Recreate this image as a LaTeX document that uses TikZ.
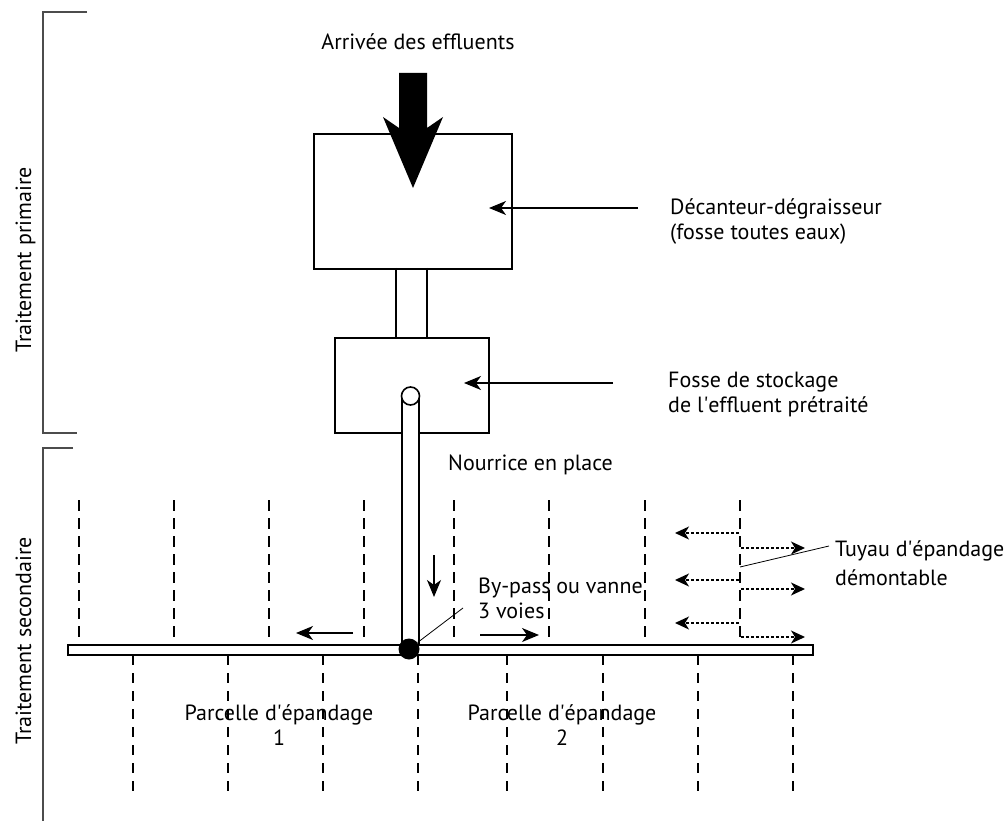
\documentclass[tikz,border=0pt]{standalone}
\usepackage{fontspec}
\setmainfont{PT Sans}
\usetikzlibrary{arrows.meta}
\begin{document}
\begin{tikzpicture}[x=1pt,y=-1pt,
  lbl/.style={font=\fontsize{22}{25}\selectfont, inner sep=0pt, align=left, text=black},
  boxst/.style={draw, line width=1.6pt, fill=white},
  pipeln/.style={line width=1.6pt},
  ptr/.style={line width=1.4pt, -{Stealth[length=17pt,width=14pt,inset=5pt]}},
  dashA/.style={line width=1.9pt, dash pattern=on 11pt off 7pt},
  dashB/.style={line width=1.9pt, dash pattern=on 10pt off 8pt},
  dotarrow/.style={line width=1.4pt, dash pattern=on 3pt off 2pt, -{Stealth[length=14pt,width=13pt,inset=4pt]}},
  leader/.style={line width=0.8pt},
  bracket/.style={line width=1.7pt, draw=black!70}]
\useasboundingbox (0,0) rectangle (1007,821);

% brackets
\draw[bracket] (87,12) -- (43,12) -- (43,433) -- (77,433);
\draw[bracket] (73,448) -- (43,448) -- (43,821);
\node[lbl, rotate=90, anchor=base] (tprim) at (31,260) {Traitement primaire};
\node[lbl, rotate=90, anchor=base] (tsec) at (31,641) {Traitement secondaire};

% dashed field lines
\foreach \x in {79,174,269,364,454,549,645,740}
  \draw[dashA] (\x,500) -- (\x,645);
\foreach \x in {133,228,323,418,507,603,698,793}
  \draw[dashB] (\x,655) -- (\x,798);

% main horizontal pipe
\draw[boxst] (68,645) rectangle (813,655);

% boxes
\node[boxst, minimum width=198pt, minimum height=135pt, anchor=north west, inner sep=0pt] (dec) at (313,133) {};
\draw[pipeln] (396,268) -- (396,337);
\draw[pipeln] (427,268) -- (427,337);
\node[boxst, minimum width=154pt, minimum height=95pt, anchor=north west, inner sep=0pt] (fos) at (334,337) {};

% nourrice pipe
\fill[white] (402,396) rectangle (419,645);
\draw[pipeln] (402,396) -- (402,645);
\draw[pipeln] (419,396) -- (419,645);
\node[circle, draw, line width=1.6pt, fill=white, minimum size=18pt, inner sep=0pt] (circ) at (410.5,396) {};
\node[circle, fill=black, minimum size=21pt, inner sep=0pt] (vanne) at (409,649) {};

% big incoming arrow
\fill[black] (399,73) -- (427,73) -- (427,128) -- (443,117) -- (413,188) -- (383,117) -- (399,128) -- cycle;
\node[lbl, anchor=base] (arr) at (418,50) {Arrivée des effluents};

% labels (anchor = baseline of last line)
\node[lbl, anchor=base west] (tdec) at (670,240) {Décanteur-dégraisseur\\(fosse toutes eaux)};
\node[lbl, anchor=base west] (tfos) at (668,412) {Fosse de stockage\\de l\textquotesingle effluent prétraité};
\node[lbl, anchor=base west] (tnou) at (448,470) {Nourrice en place};
\node[lbl, anchor=base west] (tbyp) at (478,618) {By-pass ou vanne\\3 voies};
\node[lbl, anchor=base west, font=\fontsize{22}{29}\selectfont] (ttuy) at (835,585) {Tuyau d\textquotesingle épandage\\démontable};
\node[lbl, align=center, anchor=base] (tp1) at (279,745) {Parcelle d\textquotesingle épandage\\1};
\node[lbl, align=center, anchor=base] (tp2) at (562,745) {Parcelle d\textquotesingle épandage\\2};

% pointer arrows
\coordinate (decs) at (638,208);
\coordinate (dece) at (489,208);
\draw[ptr] (decs) -- (dece);
\coordinate (foss) at (613,383);
\coordinate (fose) at (464,383);
\draw[ptr] (foss) -- (fose);

% flow arrows
\coordinate (d1) at (434,555); \coordinate (d2) at (434,597);
\draw[ptr] (d1) -- (d2);
\coordinate (l1) at (353,633); \coordinate (l2) at (296,633);
\draw[ptr] (l1) -- (l2);
\coordinate (r1) at (480,635); \coordinate (r2) at (539,635);
\draw[ptr] (r1) -- (r2);

% leaders
\coordinate (bypl) at (463,608);
\draw[leader] (vanne) -- (bypl);
\coordinate (tuyl1) at (740,567);
\coordinate (tuyl2) at (829,546);
\draw[leader] (tuyl1) -- (tuyl2);

% movable pipe arrows
\foreach \y in {533,580,623}
  \draw[dotarrow] (739,\y) -- (675,\y);
\foreach \y in {548,589,637}
  \draw[dotarrow] (741,\y) -- (805,\y);
\end{tikzpicture}
\end{document}
